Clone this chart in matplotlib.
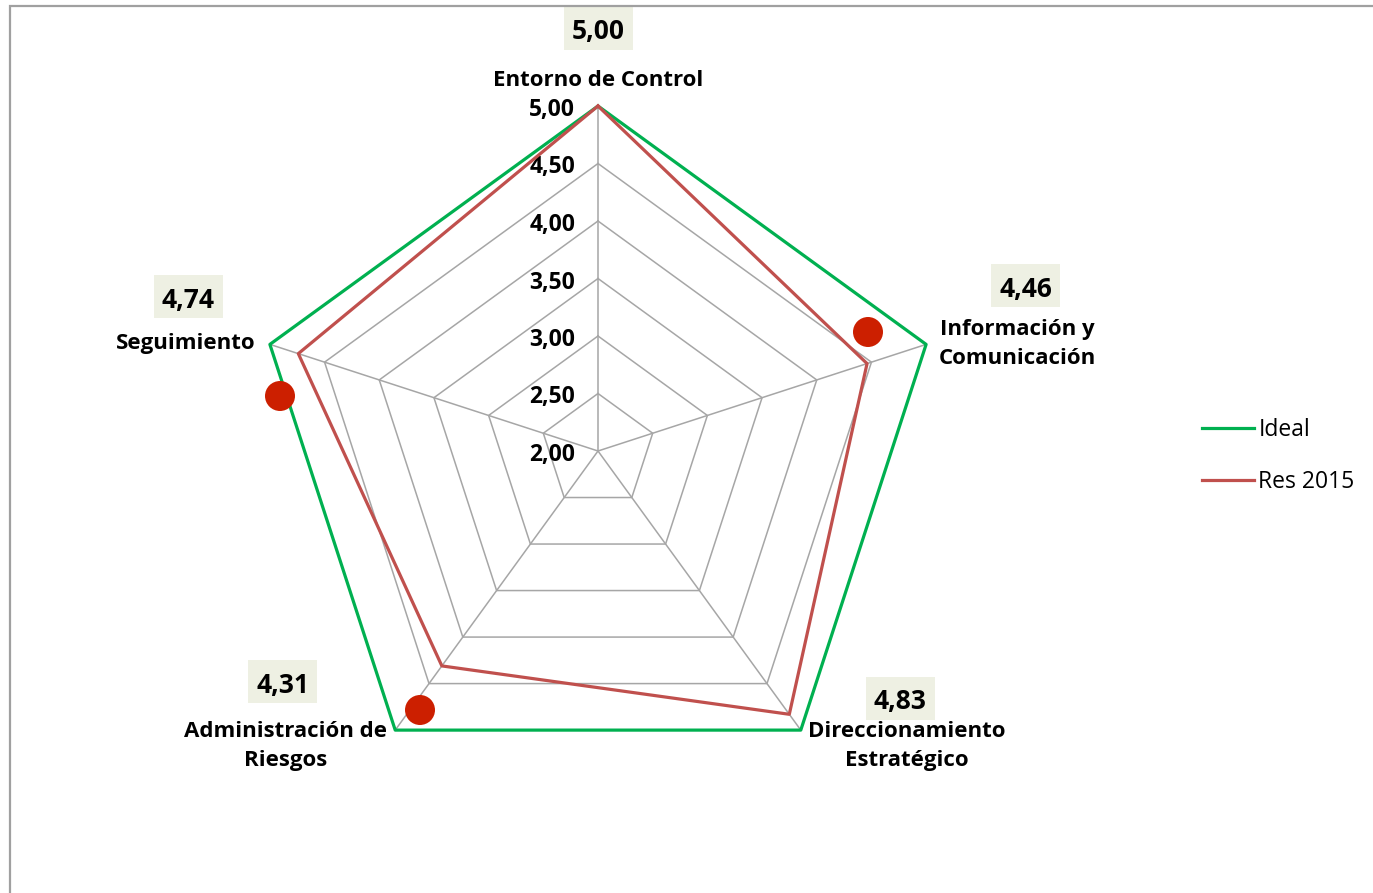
import numpy as np
import matplotlib
matplotlib.use("Agg")
import matplotlib.pyplot as plt
from matplotlib.patches import Rectangle, Circle
from matplotlib.transforms import ScaledTranslation

# ---------------- data ----------------
categories = ["Entorno de Control", "Información y\nComunicación",
              "Direccionamiento\nEstratégico", "Administración de\nRiesgos",
              "Seguimiento"]
ideal = [5.00, 5.00, 5.00, 5.00, 5.00]
res_2015 = [5.00, 4.46, 4.83, 4.31, 4.74]
value_labels = ["5,00", "4,46", "4,83", "4,31", "4,74"]
ring_levels = [2.0, 2.5, 3.0, 3.5, 4.0, 4.5, 5.0]
ring_labels = ["2,00", "2,50", "3,00", "3,50", "4,00", "4,50", "5,00"]
series_names = ["Ideal", "Res 2015"]

W, H = 1373, 893
FONT = ["Open Sans", "DejaVu Sans"]
plt.rcParams["font.family"] = FONT

fig = plt.figure(figsize=(W / 100, H / 100), dpi=100)

def fx(x):
    return x / W

def fy(y):
    return 1 - y / H

# polar axes: center (598,451) px, radius 345 px
cx, cy, R = 598, 451, 345
ax = fig.add_axes([fx(cx - R), fy(cy + R), 2 * R / W, 2 * R / H], projection="polar")
ax.set_theta_offset(np.pi / 2)
ax.set_theta_direction(-1)
ax.set_ylim(2, 5)
ax.grid(False)
ax.set_xticks([])
ax.set_yticks([])
ax.spines["polar"].set_visible(False)
ax.patch.set_alpha(0)

n = len(categories)
angles = np.linspace(0, 2 * np.pi, n, endpoint=False)
ang_closed = np.concatenate([angles, angles[:1]])

grid_col = "#A6A6A6"
for lv in ring_levels[1:-1]:
    ax.plot(ang_closed, [lv] * (n + 1), color=grid_col, lw=1.1, zorder=1)
for a in angles:
    ax.plot([a, a], [2, 5], color=grid_col, lw=1.1, zorder=1)

ax.plot(ang_closed, ideal + ideal[:1], color="#00B050", lw=2.3, zorder=3,
        label=series_names[0], clip_on=False)
ax.plot(ang_closed, res_2015 + res_2015[:1], color="#C0504D", lw=2.3, zorder=4,
        label=series_names[1], clip_on=False)

# ring tick labels along the top axis
off = ScaledTranslation(-23 / 100, -4 / 100, fig.dpi_scale_trans)
for lv, lab in zip(ring_levels, ring_labels):
    ax.text(0, lv, lab, transform=ax.transData + off, ha="right", va="center",
            fontsize=16.5, fontweight="bold", color="#000000", clip_on=False)

# category labels
cat_pos = [(598, 80, "center"), (1017, 344, "center"), (907, 746, "center"),
           (286, 746, "center"), (256, 344, "right")]
for (x, y, ha), lab in zip(cat_pos, categories):
    fig.text(fx(x), fy(y), lab, ha=ha, va="center", fontsize=16,
             fontweight="bold", linespacing=1.55)

# value boxes
box_pos = [(598.5, 28), (1025.5, 285.5), (900, 698), (282.5, 681.5), (188.5, 296.5)]
for (x, y), lab in zip(box_pos, value_labels):
    fig.patches.append(Rectangle((fx(x - 34.5), fy(y + 21.5)), 69 / W, 43 / H,
                                 transform=fig.transFigure, facecolor="#EEF0E3",
                                 edgecolor="none", zorder=0))
    fig.text(fx(x), fy(y + 3.5), lab, ha="center", va="center", fontsize=19,
             fontweight="bold")

# decorative red dots
for (x, y) in [(868, 332), (280, 396), (420, 710)]:
    fig.patches.append(Circle((x, H - y), 15, transform=None,
                              facecolor="#CC1F00", edgecolor="none", zorder=10))

# legend
leg = fig.legend(loc="upper left", bbox_to_anchor=(fx(1193), fy(409)),
                 frameon=False, fontsize=16.5, handlelength=2.25,
                 handletextpad=0.2, labelspacing=1.22, borderaxespad=0)

# chart border
fig.patches.append(Rectangle((fx(9.5), fy(H + 20)), 1.2, (H + 20 - 5.5) / H,
                             transform=fig.transFigure, facecolor="none",
                             edgecolor="#A0A0A0", lw=1.6, zorder=0))

fig.savefig("out.png", dpi=100)
